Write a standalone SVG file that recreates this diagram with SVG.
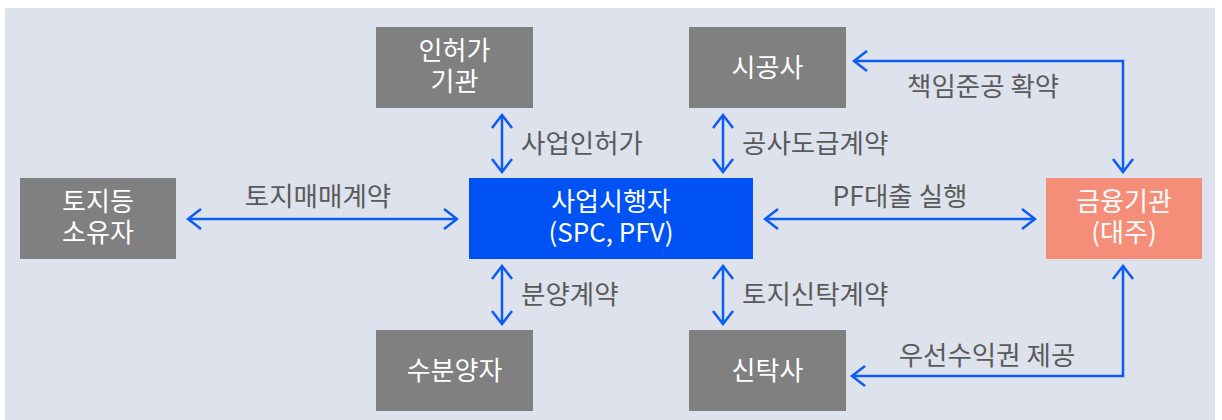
<svg xmlns="http://www.w3.org/2000/svg" width="1222" height="420" viewBox="0 0 1222 420">
<style>
.gray{fill:#808080}
.nt{fill:#ffffff;font-family:"Noto Sans CJK KR","Noto Sans",sans-serif;font-size:26px;text-anchor:middle}
.lb{fill:#5a5a5a;font-family:"Noto Sans CJK KR","Noto Sans",sans-serif;font-size:26.5px}
.cn{fill:none;stroke:#0B5CF5;stroke-width:2.5;marker-end:url(#ah)}
.both{marker-start:url(#ah)}
</style>
<defs>
<marker id="ah" markerUnits="userSpaceOnUse" viewBox="-15 -12 17 24" refX="0" refY="0" markerWidth="17" markerHeight="24" orient="auto-start-reverse">
<path d="M-13,-10 L0,0 L-13,10" fill="none" stroke="#0B5CF5" stroke-width="2.5"/>
</marker>
</defs>
<rect x="5" y="8" width="1210" height="412" fill="#DEE2ED"/>
<g id="connectors">
<line class="cn both" x1="502" y1="115" x2="502" y2="172"/>
<line class="cn both" x1="723" y1="115" x2="723" y2="172"/>
<line class="cn both" x1="502" y1="266" x2="502" y2="324"/>
<line class="cn both" x1="723" y1="266" x2="723" y2="324"/>
<line class="cn both" x1="188" y1="219" x2="457" y2="219"/>
<line class="cn both" x1="765" y1="219" x2="1035" y2="219"/>
<polyline class="cn both" points="854,61 1123,61 1123,172"/>
<polyline class="cn both" points="1123,266 1123,376 852,376"/>
<text class="lb" x="521" y="153">사업인허가</text>
<text class="lb" x="742" y="153">공사도급계약</text>
<text class="lb" x="907" y="96">책임준공 확약</text>
<text class="lb" x="318" y="206" text-anchor="middle">토지매매계약</text>
<text class="lb" x="900" y="206" text-anchor="middle">PF대출 실행</text>
<text class="lb" x="521" y="304">분양계약</text>
<text class="lb" x="742" y="304">토지신탁계약</text>
<text class="lb" x="987" y="365" text-anchor="middle">우선수익권 제공</text>
</g>
<g id="permit">
<rect class="gray" x="376" y="27" width="157" height="81"/>
<text class="nt" x="454.5" y="60">인허가</text>
<text class="nt" x="454.5" y="91">기관</text>
</g>
<g id="builder">
<rect class="gray" x="689" y="27" width="157" height="81"/>
<text class="nt" x="767.5" y="77">시공사</text>
</g>
<g id="landowner">
<rect class="gray" x="20" y="178" width="156" height="81"/>
<text class="nt" x="98" y="211">토지등</text>
<text class="nt" x="98" y="242">소유자</text>
</g>
<g id="developer">
<rect x="469" y="178" width="284" height="81" fill="#0052F5"/>
<text class="nt" x="611" y="211">사업시행자</text>
<text class="nt" x="611" y="242">(SPC, PFV)</text>
</g>
<g id="lender">
<rect x="1046" y="178" width="156" height="81" fill="#F58E78"/>
<text class="nt" x="1124" y="211">금융기관</text>
<text class="nt" x="1124" y="242">(대주)</text>
</g>
<g id="buyer">
<rect class="gray" x="376" y="330" width="157" height="81"/>
<text class="nt" x="454.5" y="380">수분양자</text>
</g>
<g id="trust">
<rect class="gray" x="689" y="330" width="157" height="81"/>
<text class="nt" x="767.5" y="380">신탁사</text>
</g>
</svg>
